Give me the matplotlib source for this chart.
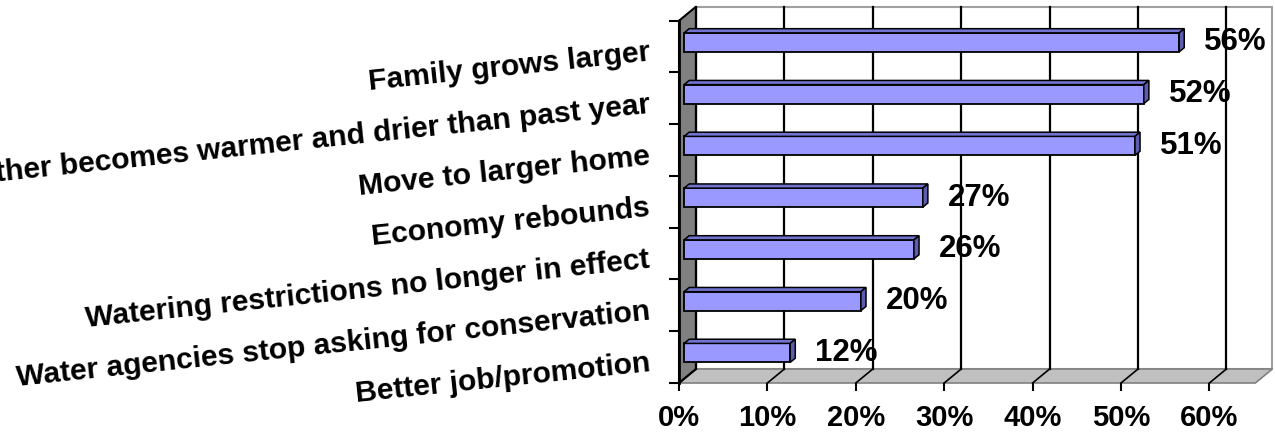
import numpy as np
import matplotlib
matplotlib.use('Agg')
import matplotlib.pyplot as plt
from matplotlib.patches import Polygon

plt.rcParams['font.family'] = ['Liberation Sans', 'DejaVu Sans']
plt.rcParams['font.weight'] = 'bold'

# data, top to bottom
categories = ['Family grows larger',
              'Weather becomes warmer and drier than past year',
              'Move to larger home',
              'Economy rebounds',
              'Watering restrictions no longer in effect',
              'Water agencies stop asking for conservation',
              'Better job/promotion']
values = [56, 52, 51, 27, 26, 20, 12]
xticks = [0, 10, 20, 30, 40, 50, 60]
xticklabels = ['0%', '10%', '20%', '30%', '40%', '50%', '60%']

W, H = 1275, 433
fig = plt.figure(figsize=(W / 100, H / 100), dpi=100)
# front plane of the 3d box in pixels
x0, x1 = 679, 679 + 65.2 * 8.84
ytop, ybot = 20.7, 383
ax = fig.add_axes([x0 / W, (H - ybot) / H, (x1 - x0) / W, (ybot - ytop) / H])
xmax = 65.2
n = len(categories)
ax.set_xlim(0, xmax)
ax.set_ylim(n, 0)

# depth of the box in data units
DX = 17 / 8.84
DY = 14 / ((ybot - ytop) / n)

for s in ax.spines.values():
    s.set_visible(False)
ax.set_facecolor('none')

# back wall
ax.add_patch(Polygon([(DX, -DY), (xmax + DX, -DY), (xmax + DX, n - DY), (DX, n - DY)],
                     closed=True, facecolor='white', edgecolor='#A0A0A0', lw=1.5,
                     clip_on=False, zorder=0))
# floor
ax.add_patch(Polygon([(0, n), (DX, n - DY), (xmax + DX, n - DY), (xmax, n)],
                     closed=True, facecolor='#C0C0C0', edgecolor='#808080', lw=1.2,
                     clip_on=False, zorder=1))
# left wall
ax.add_patch(Polygon([(0, 0), (DX, -DY), (DX, n - DY), (0, n)],
                     closed=True, facecolor='#808080', edgecolor='black', lw=1.5,
                     clip_on=False, zorder=1))

# grid lines on back wall and floor
for t in xticks:
    ax.plot([t + DX, t + DX], [-DY, n - DY], color='black', lw=1.6, clip_on=False, zorder=3)
    ax.plot([t + DX, t], [n - DY, n], color='black', lw=1.2, clip_on=False, zorder=3)
ax.plot([0, 0], [0, n], color='black', lw=2, clip_on=False, zorder=3)

# bars
d0, d1 = 0.3, 0.6
h = 0.367
ypos = np.arange(n) + 0.5
front_y = ypos - d0 * DY
ax.barh(front_y, values, left=d0 * DX, height=h, color='#9999FF',
        edgecolor='black', lw=1.3, zorder=5)
for v, c in zip(values, front_y):
    yt = c - h / 2
    yb = c + h / 2
    top = [(d0 * DX, yt), (v + d0 * DX, yt), (v + d1 * DX, yt - (d1 - d0) * DY), (d1 * DX, yt - (d1 - d0) * DY)]
    side = [(v + d0 * DX, yt), (v + d1 * DX, yt - (d1 - d0) * DY), (v + d1 * DX, yb - (d1 - d0) * DY), (v + d0 * DX, yb)]
    ax.add_patch(Polygon(top, closed=True, facecolor='#7272D0', edgecolor='black', lw=1.1, zorder=5, clip_on=False))
    ax.add_patch(Polygon(side, closed=True, facecolor='#5C5CB0', edgecolor='black', lw=1.1, zorder=5, clip_on=False))
    ax.text(v + d0 * DX + 2.8, c, f'{v}%', ha='left', va='center', fontsize=22.5,
            fontweight='bold', zorder=2.5, clip_on=False)

# axes ticks
ax.set_xticks(xticks)
ax.set_xticklabels(xticklabels, fontsize=21, fontweight='bold')
ax.tick_params(axis='x', length=6, width=1.5, pad=9, color='black')
ax.set_yticks(np.arange(n + 1))
ax.set_yticklabels([])
ax.tick_params(axis='y', length=7, width=1.5, color='black')

# rotated category labels
for lab, c in zip(categories, ypos):
    ax.text(-3.3, c + 0.12, lab, ha='right', va='center', rotation=6,
            rotation_mode='anchor', fontsize=21.6, fontweight='bold', clip_on=False)

fig.savefig('out.png', dpi=100)
